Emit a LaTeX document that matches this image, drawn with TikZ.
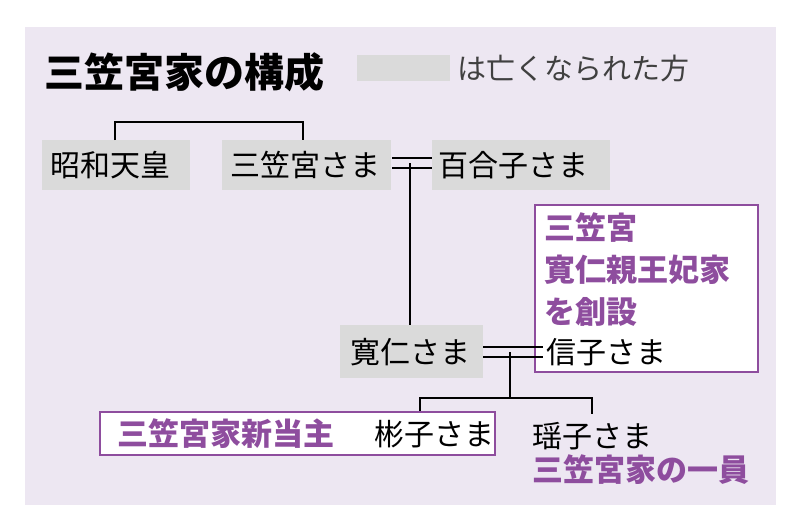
\documentclass[tikz,border=0pt]{standalone}
\usepackage{fontspec}
\setmainfont{Noto Sans CJK JP}
\begin{document}
\begin{tikzpicture}[x=1pt,y=-1pt,
  gbox/.style={fill=gry,draw=none,inner sep=0pt},
  pbox/.style={fill=white,draw=pur,line width=1.2pt},
  t/.style={anchor=west,inner sep=0pt,font=\fontsize{30}{36}\selectfont},
  pt/.style={t,text=pur,font=\fontsize{31}{42}\selectfont\bfseries},
  ln/.style={line width=1.6pt}]
\definecolor{bg}{HTML}{EDE7F2}
\definecolor{gry}{HTML}{DADADA}
\definecolor{pur}{HTML}{8E4D9E}
\useasboundingbox (0,0) rectangle (800,531);
\fill[white] (0,0) rectangle (800,531);
\fill[bg] (25,27) rectangle (776,505);
% title
\node[t,font=\fontsize{40}{44}\selectfont\bfseries] (title) at (44,72) {三笠宮家の構成};
\fill[gry] (357,55) rectangle (450,81);
\node[t,font=\fontsize{29}{32}\selectfont,text=black!75] (leg) at (457,68) {は亡くなられた方};
% boxes
\fill[gry] (42,140) rectangle (190,190);
\node[t] (showa) at (50,165) {昭和天皇};
\fill[gry] (222,140) rectangle (391,190);
\node[t] (mika) at (230,165) {三笠宮さま};
\fill[gry] (432,140) rectangle (610,190);
\node[t] (yuri) at (438,165) {百合子さま};
\draw[ln] (115,140) -- (115,122) -- (303,122) -- (303,140);
\draw[ln] (392,158) -- (432,158) (392,168) -- (432,168);
\draw[ln] (410,163) -- (410,325);
% nobuko box
\draw[pbox] (535,205) rectangle (758,372);
\node[pt,align=left,anchor=north west] (sou) at (544,212) {三笠宮\\寛仁親王妃家\\を創設};
\node[t] (nobu) at (546,352) {信子さま};
\fill[gry] (340,325) rectangle (483,378);
\node[t] (tomo) at (350,352) {寛仁さま};
\draw[ln] (483,347) -- (543,347) (483,357) -- (543,357);
\draw[ln] (510,352) -- (510,398);
\draw[ln] (420,412) -- (420,398) -- (592,398) -- (592,414);
% akiko
\draw[pbox] (100,412) rectangle (495,455);
\node[pt] (atoshu) at (117,434) {三笠宮家新当主};
\node[t] (aki) at (374,434) {彬子さま};
\node[t] (yoko) at (532,436) {瑶子さま};
\node[pt] (ichi) at (532,470) {三笠宮家の一員};
\end{tikzpicture}
\end{document}
